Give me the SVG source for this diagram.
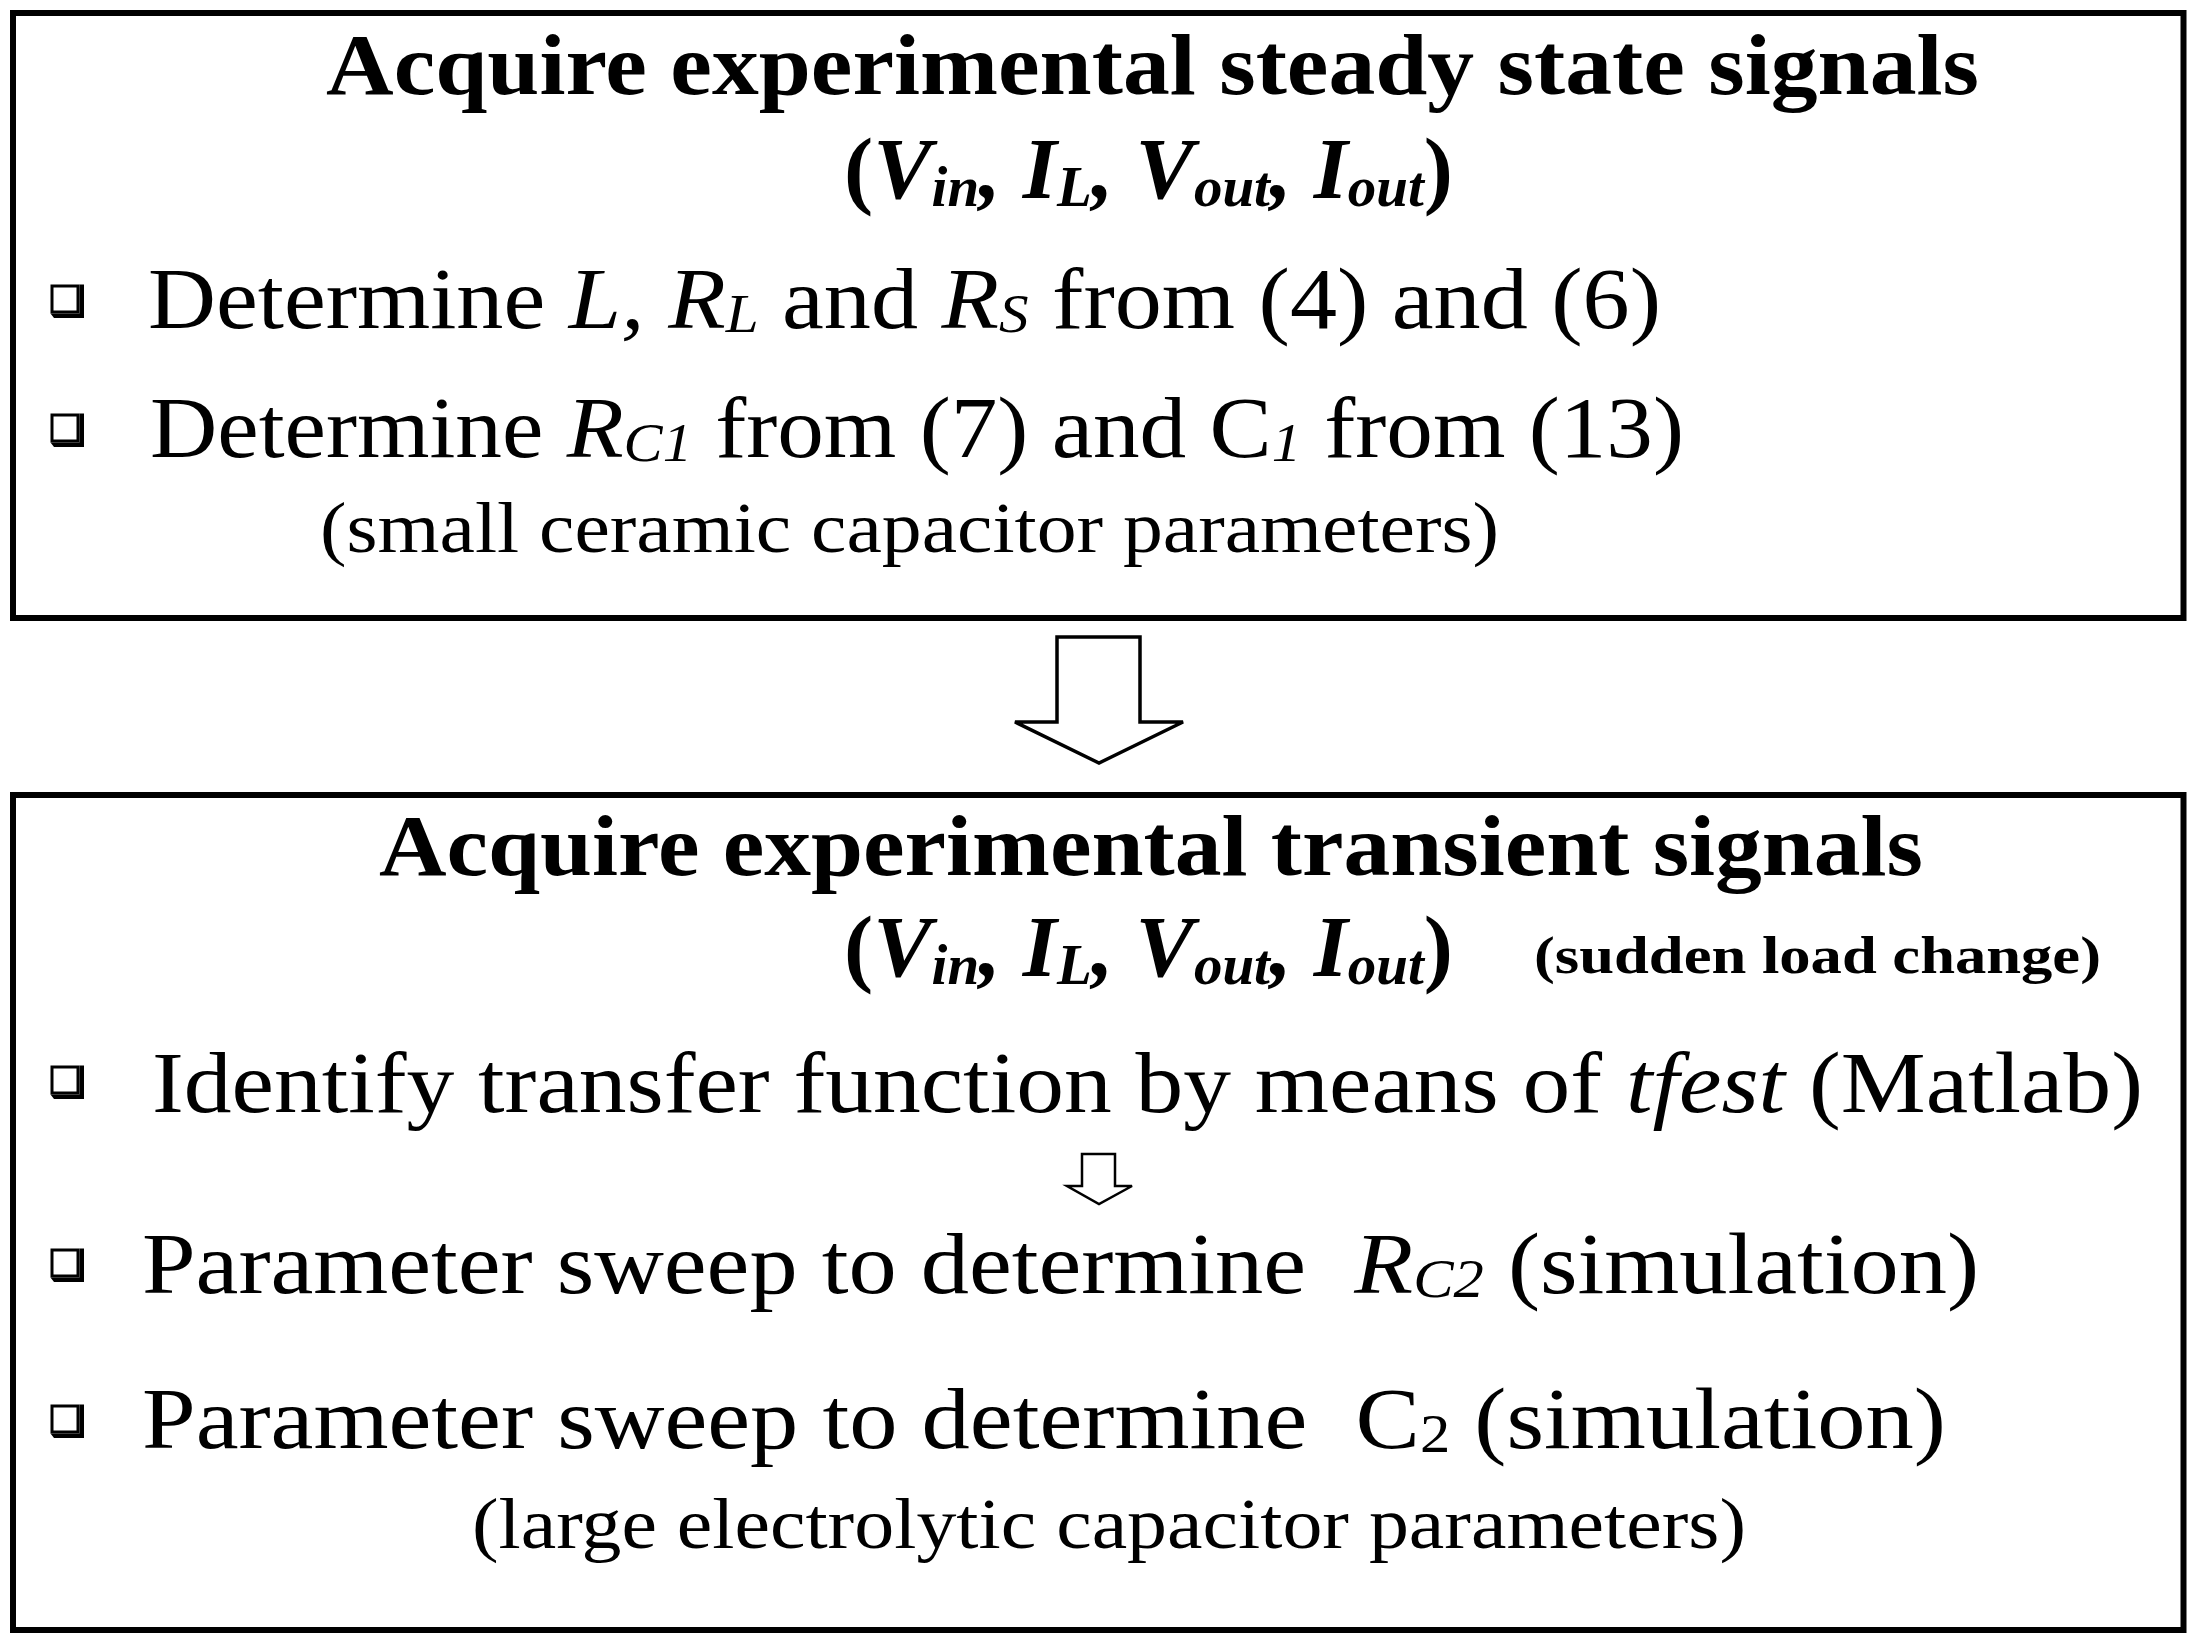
<svg xmlns="http://www.w3.org/2000/svg" width="2201" height="1644" viewBox="0 0 2201 1644">
<style>
text{font-family:"Liberation Serif","DejaVu Serif",serif;fill:#000;white-space:pre}
.t{font-size:86px;font-weight:bold}
.v{font-size:86px;font-weight:bold}
.m{font-size:86px}
.s{font-size:72px}
.sl{font-size:52px;font-weight:bold}
.i{font-style:italic}
.box{fill:#fff;stroke:#000;stroke-width:6}
.arr{fill:#fff;stroke:#000;stroke-linejoin:miter}
</style>
<defs>
<g id="bullet">
<path d="M0,0 H26 V26 H0 Z" fill="#fff" stroke="#000" stroke-width="3"/>
<path d="M-1.5,27.5 H27.5 V-1.5 H32 V32 H2 Z" fill="#000"/>
</g>
</defs>
<rect width="2201" height="1644" fill="#fff"/>
<g id="node-steady">
<rect class="box" x="13" y="13" width="2170.5" height="605"/>
<text class="t" x="326" y="94" textLength="1653" lengthAdjust="spacingAndGlyphs">Acquire experimental steady state signals</text>
<text class="v" x="844" y="198" textLength="609" lengthAdjust="spacingAndGlyphs">(<tspan class="i">V</tspan><tspan class="i" font-size="56" dy="8">in</tspan><tspan class="i" dy="-8">, I</tspan><tspan class="i" font-size="56" dy="8">L</tspan><tspan class="i" dy="-8">, V</tspan><tspan class="i" font-size="56" dy="8">out</tspan><tspan class="i" dy="-8">, I</tspan><tspan class="i" font-size="56" dy="8">out</tspan><tspan dy="-8">)</tspan></text>
<use href="#bullet" x="52" y="286"/>
<text class="m" x="148" y="328" textLength="1513" lengthAdjust="spacingAndGlyphs">Determine <tspan class="i">L, R</tspan><tspan class="i" font-size="54" dy="4">L</tspan><tspan dy="-4"> and </tspan><tspan class="i">R</tspan><tspan class="i" font-size="54" dy="4">S</tspan><tspan dy="-4"> from (4) and (6)</tspan></text>
<use href="#bullet" x="52" y="415"/>
<text class="m" x="150" y="457" textLength="1534" lengthAdjust="spacingAndGlyphs">Determine <tspan class="i">R</tspan><tspan class="i" font-size="54" dy="4">C1</tspan><tspan dy="-4"> from (7) and C</tspan><tspan class="i" font-size="54" dy="4">1</tspan><tspan dy="-4"> from (13)</tspan></text>
<text class="s" x="320" y="552" textLength="1179" lengthAdjust="spacingAndGlyphs">(small ceramic capacitor parameters)</text>
</g>
<g id="node-transient">
<rect class="box" x="13" y="795" width="2170.5" height="835"/>
<text class="t" x="379" y="875" textLength="1544" lengthAdjust="spacingAndGlyphs">Acquire experimental transient signals</text>
<text class="v" x="844" y="976" textLength="609" lengthAdjust="spacingAndGlyphs">(<tspan class="i">V</tspan><tspan class="i" font-size="56" dy="8">in</tspan><tspan class="i" dy="-8">, I</tspan><tspan class="i" font-size="56" dy="8">L</tspan><tspan class="i" dy="-8">, V</tspan><tspan class="i" font-size="56" dy="8">out</tspan><tspan class="i" dy="-8">, I</tspan><tspan class="i" font-size="56" dy="8">out</tspan><tspan dy="-8">)</tspan></text>
<text class="sl" x="1534" y="973" textLength="567" lengthAdjust="spacingAndGlyphs">(sudden load change)</text>
<use href="#bullet" x="52" y="1067"/>
<text class="m" x="152" y="1112" textLength="1991" lengthAdjust="spacingAndGlyphs">Identify transfer function by means of <tspan class="i">tfest</tspan> (Matlab)</text>
<use href="#bullet" x="52" y="1250"/>
<text class="m" x="142" y="1293" textLength="1837" lengthAdjust="spacingAndGlyphs">Parameter sweep to determine  <tspan class="i">R</tspan><tspan class="i" font-size="54" dy="4">C2</tspan><tspan dy="-4"> (simulation)</tspan></text>
<use href="#bullet" x="52" y="1406"/>
<text class="m" x="142" y="1448" textLength="1804" lengthAdjust="spacingAndGlyphs">Parameter sweep to determine  C<tspan font-size="54" dy="4">2</tspan><tspan dy="-4"> (simulation)</tspan></text>
<text class="s" x="472" y="1548" textLength="1274" lengthAdjust="spacingAndGlyphs">(large electrolytic capacitor parameters)</text>
</g>
<g id="connectors">
<polygon class="arr" stroke-width="3.5" points="1057,637 1140,637 1140,722 1183,722 1099,763 1015,722 1057,722"/>
<polygon class="arr" stroke-width="2.5" points="1082,1154 1115,1154 1115,1186 1132,1186 1099,1204 1067,1186 1082,1186"/>
</g>
</svg>
